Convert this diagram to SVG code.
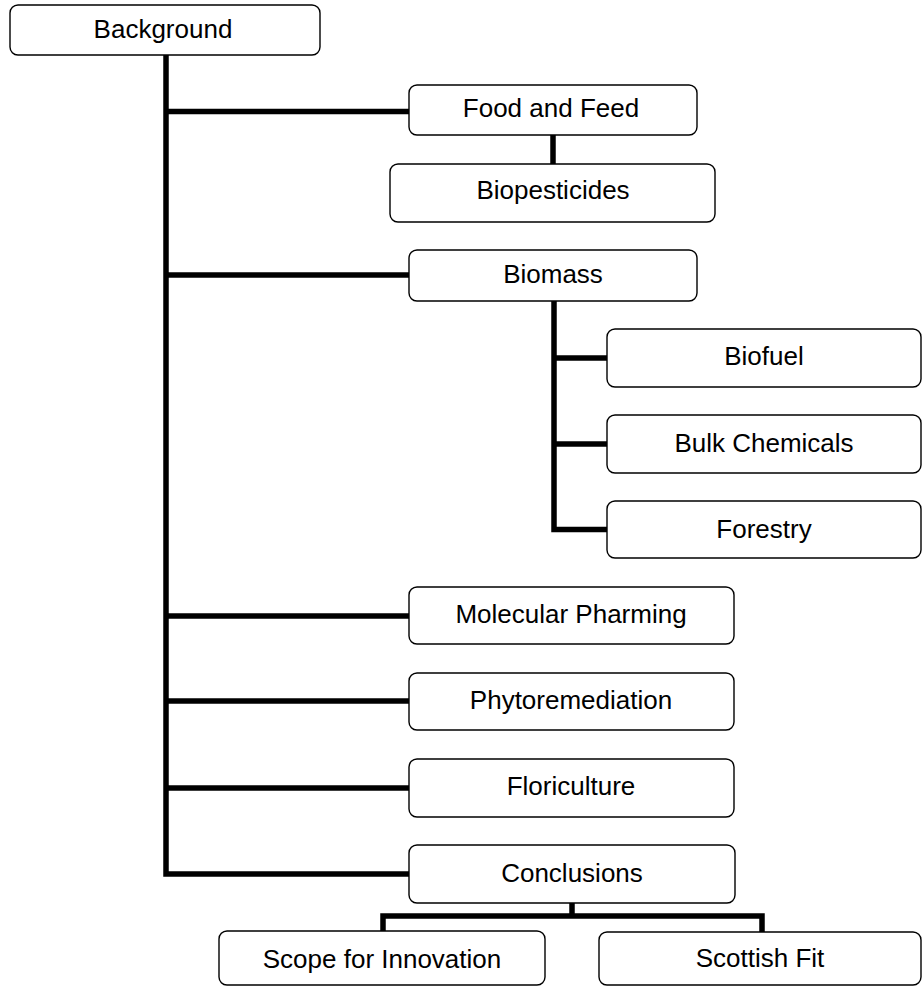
<svg xmlns="http://www.w3.org/2000/svg" width="922" height="987" viewBox="0 0 922 987">
  <style>
    .box { fill: #ffffff; stroke: #000000; stroke-width: 1.4; }
    .lbl { font-family: "Liberation Sans", Arial, sans-serif; font-size: 26px; fill: #000000; text-anchor: middle; }
    .wire { fill: none; stroke: #000000; stroke-width: 5.5; stroke-linejoin: miter; stroke-linecap: butt; }
  </style>
  <rect width="922" height="987" fill="#ffffff"/>

  <!-- connectors -->
  <g id="connectors">
    <path class="wire" d="M166 55 V874 H409"/>
    <path class="wire" d="M166 111.5 H409"/>
    <path class="wire" d="M166 275 H409"/>
    <path class="wire" d="M166 616 H409"/>
    <path class="wire" d="M166 701 H409"/>
    <path class="wire" d="M166 788 H409"/>
    <path class="wire" d="M553 135 V164"/>
    <path class="wire" d="M554 301 V529.5 H607"/>
    <path class="wire" d="M554 358 H607"/>
    <path class="wire" d="M554 444 H607"/>
    <path class="wire" d="M572 903 V916"/>
    <path class="wire" d="M383 931 V916 H762 V932"/>
  </g>

  <g id="background">
    <rect class="box" x="10" y="5" width="310" height="50" rx="8"/>
    <text class="lbl" x="163" y="38">Background</text>
  </g>
  <g id="food-and-feed">
    <rect class="box" x="409" y="85" width="288" height="50" rx="8"/>
    <text class="lbl" x="551" y="117">Food and Feed</text>
  </g>
  <g id="biopesticides">
    <rect class="box" x="390" y="164" width="325" height="58" rx="8"/>
    <text class="lbl" x="553" y="199">Biopesticides</text>
  </g>
  <g id="biomass">
    <rect class="box" x="409" y="250" width="288" height="51" rx="8"/>
    <text class="lbl" x="553" y="283">Biomass</text>
  </g>
  <g id="biofuel">
    <rect class="box" x="607" y="329" width="314" height="58" rx="8"/>
    <text class="lbl" x="764" y="365">Biofuel</text>
  </g>
  <g id="bulk-chemicals">
    <rect class="box" x="607" y="415" width="314" height="58" rx="8"/>
    <text class="lbl" x="764" y="452">Bulk Chemicals</text>
  </g>
  <g id="forestry">
    <rect class="box" x="607" y="501" width="314" height="57" rx="8"/>
    <text class="lbl" x="764" y="538">Forestry</text>
  </g>
  <g id="molecular-pharming">
    <rect class="box" x="409" y="587" width="325" height="57" rx="8"/>
    <text class="lbl" x="571" y="623">Molecular Pharming</text>
  </g>
  <g id="phytoremediation">
    <rect class="box" x="409" y="673" width="325" height="57" rx="8"/>
    <text class="lbl" x="571" y="709">Phytoremediation</text>
  </g>
  <g id="floriculture">
    <rect class="box" x="409" y="759" width="325" height="58" rx="8"/>
    <text class="lbl" x="571" y="795">Floriculture</text>
  </g>
  <g id="conclusions">
    <rect class="box" x="409" y="845" width="326" height="58" rx="8"/>
    <text class="lbl" x="572" y="882">Conclusions</text>
  </g>
  <g id="scope-for-innovation">
    <rect class="box" x="219" y="931" width="326" height="54" rx="8"/>
    <text class="lbl" x="382" y="968">Scope for Innovation</text>
  </g>
  <g id="scottish-fit">
    <rect class="box" x="599" y="932" width="322" height="53" rx="8"/>
    <text class="lbl" x="760" y="967">Scottish Fit</text>
  </g>
</svg>
